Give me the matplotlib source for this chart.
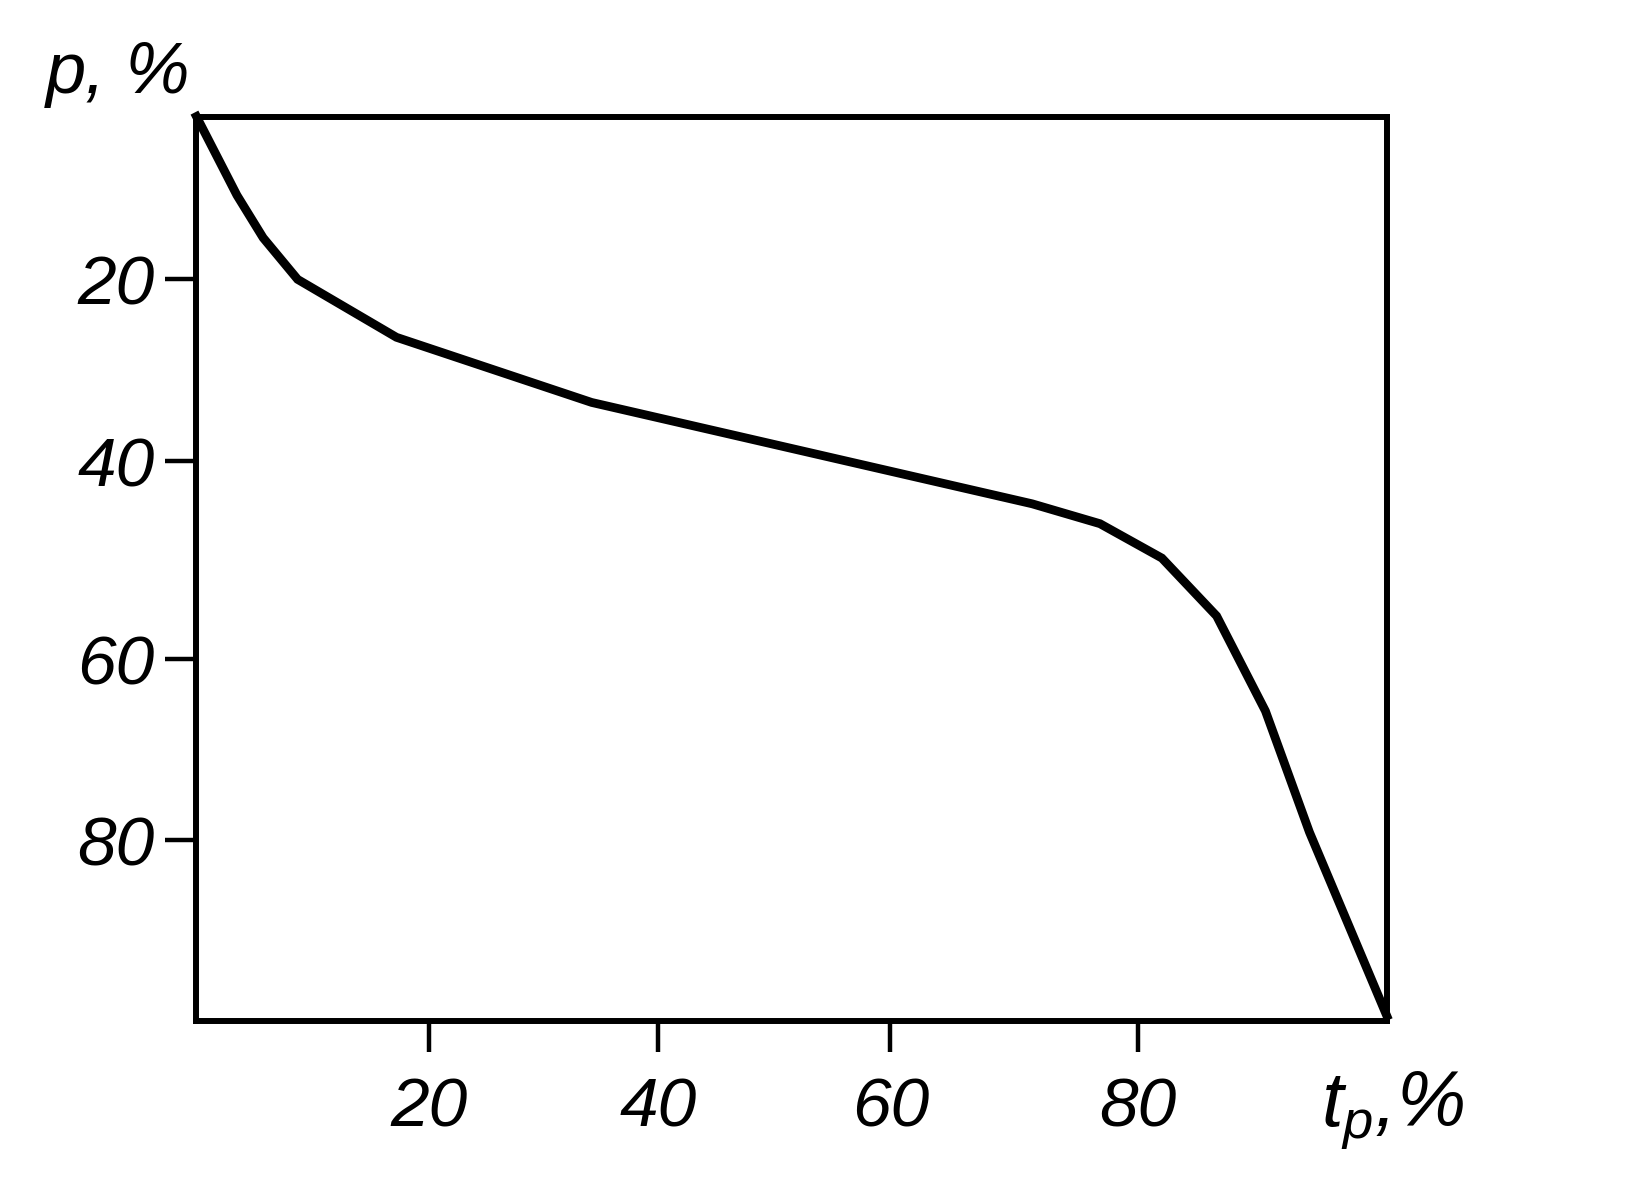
import numpy as np
import matplotlib.pyplot as plt

plt.rcParams['font.family'] = ['Liberation Sans', 'DejaVu Sans']
plt.rcParams['mathtext.fontset'] = 'custom'
plt.rcParams['mathtext.it'] = 'Liberation Sans:italic'
plt.rcParams['mathtext.rm'] = 'Liberation Sans:italic'

# curve (t_p in %, p in %, p grows downward)
tp = [0, 3.4, 5.6, 8.5, 16.8, 33.2, 55.0, 70.2, 75.9, 81.1, 85.7, 89.8, 93.5, 100]
p = [0, 8.7, 13.4, 18.0, 24.4, 31.6, 38.2, 42.8, 45.0, 48.8, 55.2, 65.7, 79.1, 99.4]

# the hand-drawn axes put their ticks slightly off the round values
xtick_pos = [19.5, 38.8, 58.3, 79.1]
xtick_lab = ["20", "40", "60", "80"]
ytick_pos = [18.0, 38.1, 60.0, 80.0]
ytick_lab = ["20", "40", "60", "80"]

fig = plt.figure(figsize=(16.51, 11.89), dpi=100)
ax = fig.add_axes([0.119, 0.141, 0.721, 0.761])

ax.plot(tp, p, color="black", lw=6.3, solid_joinstyle="miter", clip_on=False, zorder=3)

ax.set_xlim(0, 100)
ax.set_ylim(100, 0)

for s in ax.spines.values():
    s.set_linewidth(4.3)

ax.set_xticks(xtick_pos)
ax.set_xticklabels(xtick_lab, fontsize=50, style="italic")
ax.set_yticks(ytick_pos)
ax.set_yticklabels(ytick_lab, fontsize=50, style="italic")
ax.tick_params(axis="both", direction="out", length=22, width=3.2, color="black")
ax.tick_params(axis="x", pad=18)
ax.tick_params(axis="y", pad=8)

fig.text(0.028, 0.922, "p, %", fontsize=52, style="italic", ha="left", va="baseline")
fig.text(0.800, 0.052, r"$t_p$,%", fontsize=56, style="italic", ha="left", va="baseline")

fig.savefig("out.png", dpi=100, facecolor="white")
